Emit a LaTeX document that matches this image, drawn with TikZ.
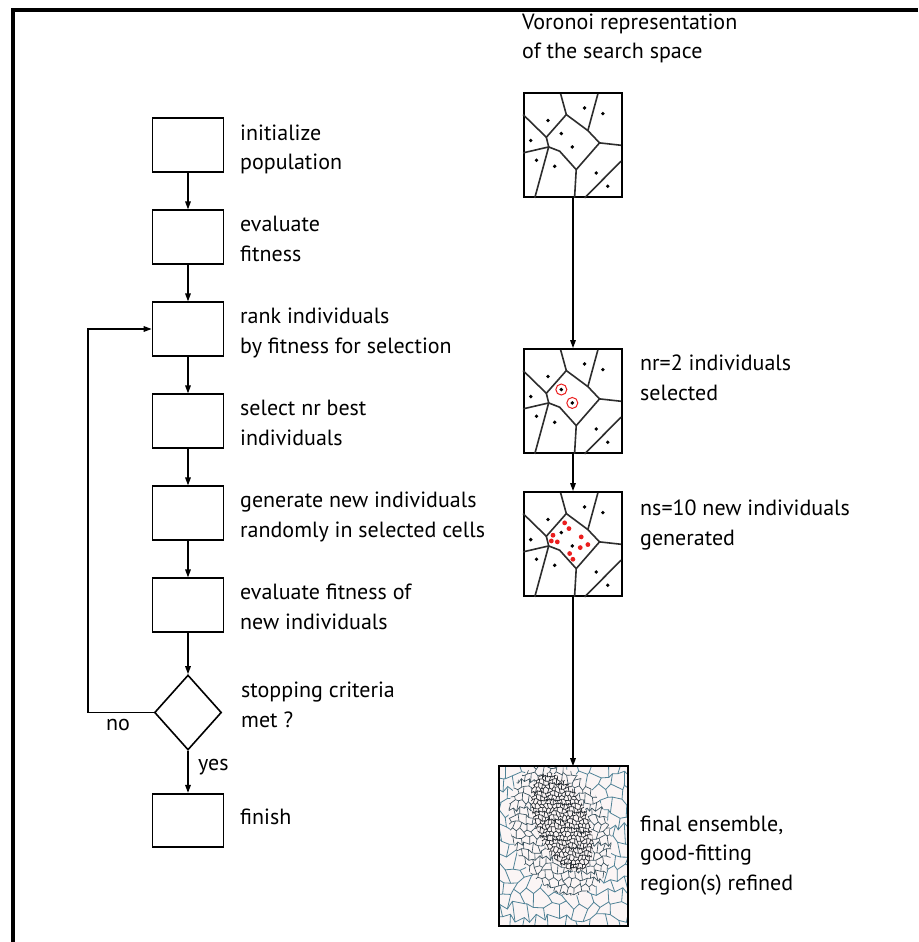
\documentclass[tikz,border=0pt]{standalone}
\usepackage{fontspec}
\newfontfamily\ptsfont{PT Sans}
\usetikzlibrary{arrows.meta,shapes.geometric}
\definecolor{meshline}{RGB}{80,130,150}
\definecolor{meshmid}{RGB}{55,80,92}
\definecolor{meshfine}{RGB}{35,42,48}
\definecolor{meshbg}{RGB}{251,245,245}
\definecolor{vorgray}{RGB}{45,45,45}
\definecolor{selred}{RGB}{235,30,30}

\newcommand\vorcells{%
  \draw[vor] (0.383,1) -- (0.441,0.801) -- (0.661,0.647) -- (0.780,0.529) -- (1,0.506);
  \draw[vor] (0.763,1) -- (0.661,0.647);
  \draw[vor] (0.780,0.529) -- (0.542,0.272) -- (0.525,0);
  \draw[vor] (0.542,0.272) -- (0.373,0.449) -- (0.261,0.490) -- (0.237,0.583) -- (0.441,0.801);
  \draw[vor] (0,0.801) -- (0.237,0.583);
  \draw[vor] (0,0.433) -- (0.261,0.490) -- (0.119,0);
  \draw[vor] (0.627,0) -- (1,0.353);
  \foreach \p in {(0.254,0.744),(0.627,0.865),(0.814,0.811),(0.390,0.619),(0.078,0.551),
                  (0.502,0.490),(0.136,0.362),(0.322,0.304),(0.746,0.240),(0.864,0.112)}
    \fill[black] \p circle[radius=1.9pt];
}

% #1 x0, #2 y0, #3 h, #4 v, #5 I, #6 J
\newcommand\mymeshgrid[6]{%
  \foreach \j in {0,...,#6} {
    \draw ({#1+0.4*#3*jx(0,\j)},{#2+\j*#4+0.33*#4*jy(0,\j)})
      \foreach \i in {1,...,#5} { -- ({#1+\i*#3+0.4*#3*jx(\i,\j)},{#2+\j*#4+0.33*#4*jy(\i,\j)}) };
  }
  \pgfmathtruncatemacro\jmax{#6-1}
  \foreach \j in {0,...,\jmax} {
    \pgfmathtruncatemacro\st{mod(\j,2)}
    \pgfmathtruncatemacro\stb{\st+2}
    \foreach \i in {\st,\stb,...,#5} {
      \pgfmathtruncatemacro\jn{\j+1}
      \draw ({#1+\i*#3+0.4*#3*jx(\i,\j)},{#2+\j*#4+0.33*#4*jy(\i,\j)}) --
            ({#1+\i*#3+0.4*#3*jx(\i,\jn)},{#2+\jn*#4+0.33*#4*jy(\i,\jn)});
    }
  }
}

\begin{document}
\begin{tikzpicture}[x=1pt,y=-1pt,
  declare function={jx(\a,\b)=sin(1000*sin(97*\a+151*\b+11));
                    jy(\a,\b)=sin(1000*cos(61*\a+127*\b+7));},
  fbox/.style={draw, line width=1.6pt, minimum width=71pt, minimum height=53.5pt, inner sep=0pt},
  dia/.style={diamond, draw, line width=1.6pt, minimum width=67pt, minimum height=75pt, inner sep=0pt},
  vbox/.style={draw, line width=1.8pt, minimum width=98pt, minimum height=104pt, inner sep=0pt},
  vor/.style={draw=vorgray, line width=1.6pt, line join=round},
  conn/.style={line width=1.5pt, -{Triangle[length=8pt,width=5.5pt]}},
  txt/.style={font={\ptsfont\fontsize{22}{29.5}\selectfont}, anchor=base west, align=left, inner sep=0pt},
  lbl/.style={font={\ptsfont\fontsize{22}{29.5}\selectfont}, inner sep=0pt}
]
\useasboundingbox (0,0) rectangle (918,942);
\fill[white] (0,0) rectangle (918,942);
% frame
\draw[line width=4pt] (13,942) -- (13,10) -- (918,10);

% left flowchart
\node[fbox] (b1) at (188,145) {};
\node[fbox] (b2) at (188,237) {};
\node[fbox] (b3) at (188,329) {};
\node[fbox] (b4) at (188,421) {};
\node[fbox] (b5) at (188,513) {};
\node[fbox] (b6) at (188,605) {};
\node[dia] (d) at (188,712.5) {};
\node[fbox] (fin) at (188,820.5) {};

% anchor = baseline of the last line
\node[txt] (t1) at (240,169.5) {initialize\\population};
\node[txt] (t2) at (240,261) {evaluate\\fitness};
\node[txt] (t3) at (240,353) {rank individuals\\by fitness for selection};
\node[txt] (t4) at (240,445) {select nr best\\individuals};
\node[txt] (t5) at (240,537) {generate new individuals\\randomly in selected cells};
\node[txt] (t6) at (240,629) {evaluate fitness of\\new individuals};
\node[txt] (t7) at (241,727) {stopping criteria\\met ?};
\node[txt] (t8) at (240,824) {finish};
\node[lbl, anchor=base] (no) at (118,730) {no};
\node[lbl, anchor=base west] (yes) at (198,770) {yes};

\draw[conn] (b1.south) -- (b2.north);
\draw[conn] (b2.south) -- (b3.north);
\draw[conn] (b3.south) -- (b4.north);
\draw[conn] (b4.south) -- (b5.north);
\draw[conn] (b5.south) -- (b6.north);
\draw[conn] (b6.south) -- (d.north);
\draw[conn] (d.south) -- (fin.north);
\coordinate (lp) at (88,712.5);
\draw[conn] (d.west) -- (lp) |- (b3.west);

% right column
\node[txt] (tv) at (522,59) {Voronoi representation\\of the search space};
\node[vbox] (v1) at (573,145) {};
\node[vbox] (v2) at (573,401) {};
\node[vbox] (v3) at (573,544) {};
\node[draw, line width=1.6pt, minimum width=127pt, minimum height=158pt, inner sep=0pt] (vf) at (563.5,846) {};

\begin{scope}[shift={(v1.south west)}, x=98pt, y=104pt]
  \vorcells
\end{scope}
\begin{scope}[shift={(v2.south west)}, x=98pt, y=104pt]
  \vorcells
  \draw[selred, line width=1pt] (0.390,0.619) circle[radius=5.5pt];
  \draw[selred, line width=1pt] (0.502,0.490) circle[radius=5.5pt];
\end{scope}
\begin{scope}[shift={(v3.south west)}, x=98pt, y=104pt]
  \vorcells
  \foreach \p in {(0.424,0.712),(0.468,0.657),(0.305,0.593),(0.288,0.538),(0.349,0.529),
                  (0.593,0.577),(0.661,0.503),(0.583,0.474),(0.475,0.417),(0.508,0.362)}
    \fill[selred] \p circle[radius=2.4pt];
\end{scope}

\node[txt] (tn) at (640,400) {nr=2 individuals\\selected};
\node[txt] (ts) at (640,545) {ns=10 new individuals\\generated};
\node[txt] (tf) at (640,890) {final ensemble,\\good-fitting\\region(s) refined};

\draw[conn] (v1.south) -- (v2.north);
\draw[conn] (v2.south) -- (v3.north);
\draw[conn] (v3.south) -- (v3.south |- vf.north);

% final ensemble mesh
\begin{scope}
  \clip (vf.south west) rectangle (vf.north east);
  \fill[meshbg] (vf.south west) rectangle (vf.north east);
  \begin{scope}[draw=meshline, line width=0.8pt]
    \mymeshgrid{494}{762}{7}{13}{21}{13}
  \end{scope}
  \fill[meshbg, rotate around={22:(560,830)}] (560,830) ellipse [x radius=48, y radius=68];
  \begin{scope}
    \clip[rotate around={22:(560,830)}] (560,830) ellipse [x radius=48, y radius=68];
    \begin{scope}[draw=meshmid, line width=0.65pt]
      \mymeshgrid{496}{760}{3.6}{7}{36}{21}
    \end{scope}
  \end{scope}
  \fill[meshbg, rotate around={22:(562,822)}] (562,822) ellipse [x radius=26, y radius=52];
  \begin{scope}
    \clip[rotate around={22:(562,822)}] (562,822) ellipse [x radius=26, y radius=52];
    \begin{scope}[draw=meshfine, line width=0.7pt]
      \mymeshgrid{524}{764}{2}{4}{46}{30}
    \end{scope}
  \end{scope}
\end{scope}
\draw[line width=1.6pt] (vf.south west) rectangle (vf.north east);
\end{tikzpicture}
\end{document}
